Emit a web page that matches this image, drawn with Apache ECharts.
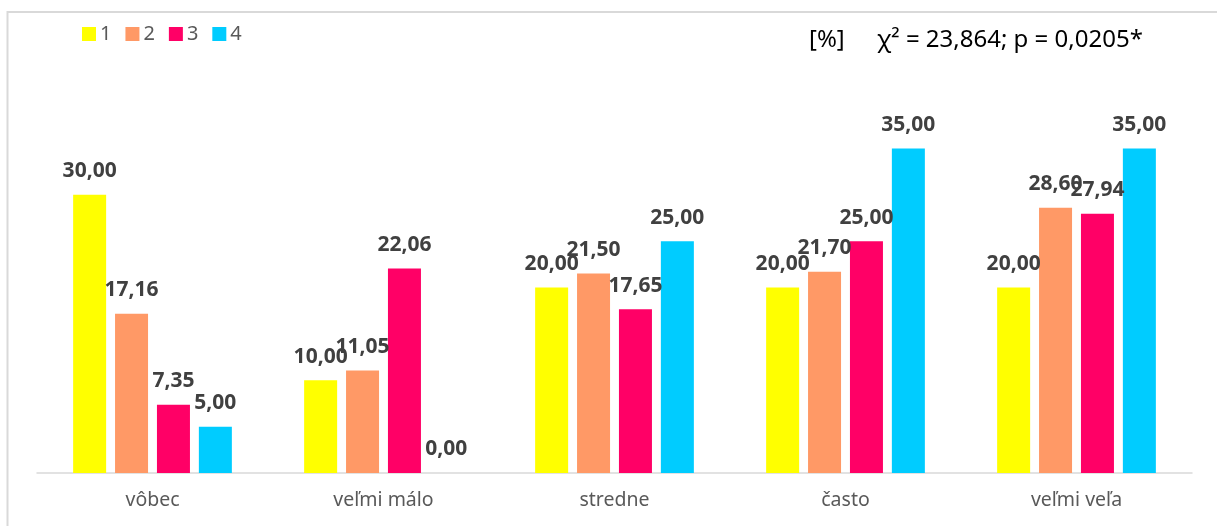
<!DOCTYPE html>
<html>
<head>
<meta charset="utf-8">
<title>Rozloženie odpovedí</title>
<script src="https://cdn.jsdelivr.net/npm/echarts@6/dist/echarts.min.js"></script>
<style>
  html, body { margin: 0; padding: 0; background: #ffffff; }
  #chart { width: 1217px; height: 526px; }
</style>
</head>
<body>
<div id="chart"></div>
<script>
// Response categories on the x axis
const categories = ['vôbec', 'veľmi málo', 'stredne', 'často', 'veľmi veľa'];

// Percentages for each group (1–4)
const group1 = [30.00, 10.00, 20.00, 20.00, 20.00];
const group2 = [17.16, 11.05, 21.50, 21.70, 28.60];
const group3 = [7.35, 22.06, 17.65, 25.00, 27.94];
const group4 = [5.00, 0.00, 25.00, 35.00, 35.00];

const seriesNames = ['1', '2', '3', '4'];
const seriesData = [group1, group2, group3, group4];
const colors = ['#FFFF00', '#FF9966', '#FF0066', '#00CCFF'];

const chart = echarts.init(document.getElementById('chart'), null, { renderer: 'canvas' });

const fmt = v => v.toFixed(2).replace('.', ',');

const option = {
  animation: false,
  backgroundColor: '#ffffff',
  color: colors,
  textStyle: { fontFamily: 'Noto Sans' },
  title: [
    {
      text: '[%]',
      left: 809,
      top: 28,
      padding: 0,
      textStyle: { fontSize: 24, fontWeight: 'normal', color: '#000000', fontFamily: 'Noto Sans' }
    },
    {
      text: 'χ² = 23,864; p = 0,0205*',
      left: 877,
      top: 28,
      padding: 0,
      textStyle: { fontSize: 24, fontWeight: 'normal', color: '#000000', fontFamily: 'Noto Sans' }
    }
  ],
  legend: {
    left: 82,
    top: 24,
    padding: 0,
    itemWidth: 14,
    itemHeight: 14,
    itemGap: 14,
    icon: 'rect',
    textStyle: { fontSize: 20, color: '#595959', padding: [0, 0, 0, -1] },
    data: seriesNames
  },
  graphic: [
    {
      type: 'rect',
      silent: true,
      shape: { x: 7.5, y: 12, width: 1240, height: 560 },
      style: { fill: 'none', stroke: '#d9d9d9', lineWidth: 2 },
      z: -10
    }
  ],
  grid: { left: 37, right: 25, top: 102, bottom: 53, containLabel: false },
  xAxis: {
    type: 'category',
    data: categories,
    axisLine: { show: true, lineStyle: { color: '#d9d9d9', width: 1.5 } },
    axisTick: { show: false },
    axisLabel: { color: '#595959', fontSize: 19.5, margin: 17 },
    splitLine: { show: false }
  },
  yAxis: {
    type: 'value',
    min: 0,
    max: 40,
    show: false,
    splitLine: { show: false }
  },
  series: seriesData.map((data, i) => ({
    name: seriesNames[i],
    type: 'bar',
    data: data,
    barWidth: 33,
    barGap: '27%',
    itemStyle: { color: colors[i] },
    label: {
      show: true,
      position: 'top',
      distance: 13,
      fontSize: 21,
      fontWeight: 'bold',
      color: '#404040',
      formatter: p => fmt(p.value)
    }
  }))
};

chart.setOption(option);
</script>
</body>
</html>
